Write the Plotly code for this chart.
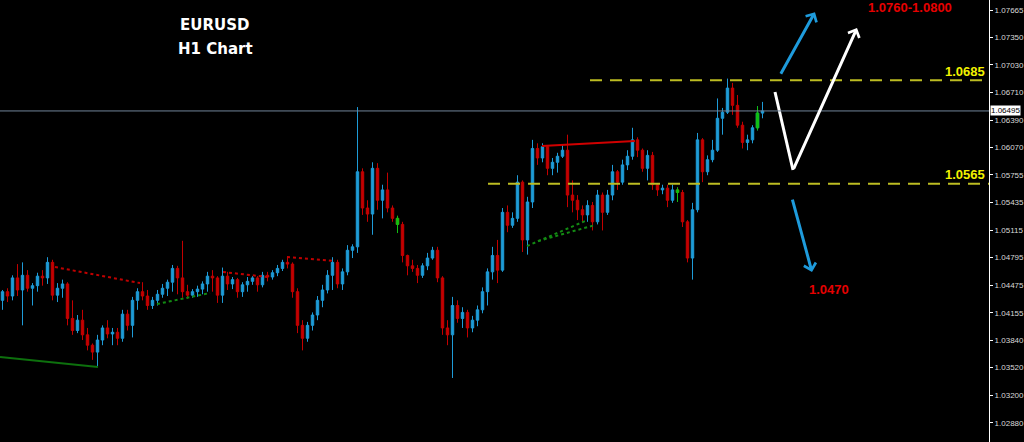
import plotly.graph_objects as go

# EURUSD H1 bars (one bar per slot, left to right)
opens = [
    1.0430, 1.0440, 1.0435, 1.0456, 1.0442, 1.0459, 1.0444, 1.0447, 1.0458, 1.0456,
    1.0474, 1.0436, 1.0444, 1.0449, 1.0409, 1.0395, 1.0407, 1.0390, 1.0378, 1.0370,
    1.0384, 1.0398, 1.0391, 1.0393, 1.0386, 1.0414, 1.0401, 1.0430, 1.0440, 1.0435,
    1.0424, 1.0430, 1.0437, 1.0444, 1.0451, 1.0467, 1.0456, 1.0440, 1.0436, 1.0440,
    1.0443, 1.0449, 1.0458, 1.0456, 1.0436, 1.0458, 1.0449, 1.0454, 1.0440, 1.0448,
    1.0452, 1.0456, 1.0448, 1.0459, 1.0457, 1.0462, 1.0467, 1.0474, 1.0472, 1.0440,
    1.0401, 1.0386, 1.0401, 1.0413, 1.0430, 1.0442, 1.0459, 1.0474, 1.0449, 1.0463,
    1.0488, 1.0492, 1.0579, 1.0537, 1.0530, 1.0583, 1.0546, 1.0558, 1.0537, 1.0525,
    1.0518, 1.0482, 1.0470, 1.0467, 1.0459, 1.0470, 1.0479, 1.0488, 1.0456, 1.0398,
    1.0390, 1.0424, 1.0409, 1.0416, 1.0398, 1.0407, 1.0419, 1.0440, 1.0463, 1.0482,
    1.0465, 1.0532, 1.0517, 1.0525, 1.0567, 1.0500, 1.0544, 1.0606, 1.0595, 1.0608,
    1.0583, 1.0590, 1.0597, 1.0604, 1.0552, 1.0546, 1.0535, 1.0529, 1.0540, 1.0521,
    1.0552, 1.0532, 1.0552, 1.0579, 1.0567, 1.0587, 1.0597, 1.0616, 1.0604, 1.0583,
    1.0598, 1.0564, 1.0558, 1.0560, 1.0546, 1.0558, 1.0555, 1.0521, 1.0479, 1.0535,
    1.0616, 1.0579, 1.0593, 1.0604, 1.0641, 1.0648, 1.0676, 1.0656, 1.0633, 1.0613,
    1.0616, 1.0630, 1.0647,
]
highs = [
    1.0442, 1.0444, 1.0459, 1.0472, 1.0474, 1.0465, 1.0450, 1.0462, 1.0465, 1.0480,
    1.0477, 1.0450, 1.0454, 1.0451, 1.0430, 1.0413, 1.0419, 1.0398, 1.0380, 1.0390,
    1.0401, 1.0407, 1.0398, 1.0398, 1.0419, 1.0419, 1.0434, 1.0444, 1.0451, 1.0442,
    1.0434, 1.0442, 1.0449, 1.0454, 1.0471, 1.0470, 1.0499, 1.0448, 1.0443, 1.0447,
    1.0452, 1.0463, 1.0465, 1.0458, 1.0468, 1.0463, 1.0457, 1.0456, 1.0451, 1.0457,
    1.0458, 1.0458, 1.0463, 1.0463, 1.0465, 1.0471, 1.0477, 1.0481, 1.0474, 1.0444,
    1.0407, 1.0405, 1.0416, 1.0435, 1.0448, 1.0465, 1.0480, 1.0477, 1.0467, 1.0494,
    1.0495, 1.0654, 1.0583, 1.0546, 1.0590, 1.0589, 1.0564, 1.0578, 1.0540, 1.0528,
    1.0521, 1.0483, 1.0477, 1.0471, 1.0473, 1.0485, 1.0492, 1.0492, 1.0458, 1.0407,
    1.0434, 1.0430, 1.0422, 1.0419, 1.0412, 1.0424, 1.0445, 1.0467, 1.0492, 1.0500,
    1.0537, 1.0540, 1.0532, 1.0575, 1.0569, 1.0550, 1.0616, 1.0612, 1.0612, 1.0610,
    1.0595, 1.0601, 1.0610, 1.0622, 1.0569, 1.0552, 1.0540, 1.0546, 1.0544, 1.0558,
    1.0555, 1.0558, 1.0587, 1.0581, 1.0593, 1.0604, 1.0630, 1.0619, 1.0606, 1.0604,
    1.0602, 1.0566, 1.0564, 1.0564, 1.0564, 1.0561, 1.0558, 1.0523, 1.0543, 1.0624,
    1.0618, 1.0598, 1.0616, 1.0664, 1.0653, 1.0687, 1.0682, 1.0668, 1.0637, 1.0622,
    1.0633, 1.0655, 1.0660,
]
lows = [
    1.0419, 1.0428, 1.0430, 1.0435, 1.0401, 1.0440, 1.0424, 1.0440, 1.0447, 1.0449,
    1.0430, 1.0428, 1.0433, 1.0401, 1.0390, 1.0392, 1.0384, 1.0372, 1.0361, 1.0353,
    1.0378, 1.0386, 1.0378, 1.0378, 1.0382, 1.0395, 1.0387, 1.0419, 1.0430, 1.0419,
    1.0420, 1.0424, 1.0433, 1.0435, 1.0440, 1.0437, 1.0433, 1.0432, 1.0433, 1.0434,
    1.0437, 1.0440, 1.0440, 1.0427, 1.0427, 1.0442, 1.0443, 1.0433, 1.0434, 1.0440,
    1.0448, 1.0440, 1.0445, 1.0452, 1.0454, 1.0458, 1.0464, 1.0467, 1.0433, 1.0392,
    1.0372, 1.0382, 1.0395, 1.0407, 1.0422, 1.0438, 1.0442, 1.0444, 1.0442, 1.0459,
    1.0479, 1.0485, 1.0529, 1.0521, 1.0506, 1.0535, 1.0525, 1.0532, 1.0521, 1.0508,
    1.0474, 1.0459, 1.0463, 1.0450, 1.0456, 1.0465, 1.0477, 1.0451, 1.0390, 1.0378,
    1.0340, 1.0404, 1.0398, 1.0387, 1.0393, 1.0400, 1.0415, 1.0424, 1.0454, 1.0450,
    1.0463, 1.0509, 1.0514, 1.0521, 1.0486, 1.0483, 1.0537, 1.0587, 1.0590, 1.0575,
    1.0575, 1.0578, 1.0595, 1.0538, 1.0532, 1.0523, 1.0521, 1.0521, 1.0511, 1.0518,
    1.0511, 1.0529, 1.0546, 1.0558, 1.0564, 1.0581, 1.0593, 1.0596, 1.0579, 1.0569,
    1.0558, 1.0551, 1.0553, 1.0538, 1.0543, 1.0544, 1.0515, 1.0474, 1.0454, 1.0532,
    1.0567, 1.0575, 1.0590, 1.0602, 1.0622, 1.0646, 1.0645, 1.0630, 1.0606, 1.0604,
    1.0612, 1.0627, 1.0641,
]
closes = [
    1.0440, 1.0435, 1.0456, 1.0442, 1.0459, 1.0444, 1.0447, 1.0458, 1.0456, 1.0474,
    1.0436, 1.0444, 1.0449, 1.0409, 1.0395, 1.0407, 1.0390, 1.0378, 1.0370, 1.0384,
    1.0398, 1.0391, 1.0393, 1.0386, 1.0414, 1.0401, 1.0430, 1.0440, 1.0435, 1.0424,
    1.0430, 1.0437, 1.0444, 1.0451, 1.0467, 1.0456, 1.0440, 1.0436, 1.0440, 1.0443,
    1.0449, 1.0458, 1.0456, 1.0436, 1.0458, 1.0449, 1.0454, 1.0440, 1.0448, 1.0452,
    1.0456, 1.0448, 1.0459, 1.0457, 1.0462, 1.0467, 1.0474, 1.0472, 1.0440, 1.0401,
    1.0386, 1.0401, 1.0413, 1.0430, 1.0442, 1.0459, 1.0474, 1.0449, 1.0463, 1.0488,
    1.0492, 1.0579, 1.0537, 1.0530, 1.0583, 1.0546, 1.0558, 1.0537, 1.0525, 1.0518,
    1.0482, 1.0470, 1.0467, 1.0459, 1.0470, 1.0479, 1.0488, 1.0456, 1.0398, 1.0390,
    1.0424, 1.0409, 1.0416, 1.0398, 1.0407, 1.0419, 1.0440, 1.0463, 1.0482, 1.0465,
    1.0532, 1.0517, 1.0525, 1.0567, 1.0500, 1.0544, 1.0606, 1.0595, 1.0608, 1.0583,
    1.0590, 1.0597, 1.0604, 1.0552, 1.0546, 1.0535, 1.0529, 1.0540, 1.0521, 1.0552,
    1.0532, 1.0552, 1.0579, 1.0567, 1.0587, 1.0597, 1.0616, 1.0604, 1.0583, 1.0598,
    1.0564, 1.0558, 1.0560, 1.0546, 1.0558, 1.0555, 1.0521, 1.0479, 1.0535, 1.0616,
    1.0579, 1.0593, 1.0604, 1.0641, 1.0648, 1.0676, 1.0656, 1.0633, 1.0613, 1.0616,
    1.0630, 1.0647, 1.06495,
]
bars = list(range(len(closes)))
green_bars = [79, 135, 151]  # bars the indicator painted green

price_ticks = [1.07665, 1.07350, 1.07030, 1.06710, 1.06390, 1.06070, 1.05755, 1.05435,
               1.05115, 1.04795, 1.04475, 1.04155, 1.03840, 1.03520, 1.03200, 1.02880]
last_price = 1.06495

# support / resistance levels and where their dashed lines start
levels = [1.0685, 1.0565]
level_starts = [117.5, 97.1]
level_labels = ["1.0685", "1.0565"]

# trend lines drawn on the chart: (bar0, bar1), (price0, price1)
red_dotted_x = [[10.5, 27.5], [44.1, 53.1], [56.9, 66.5]]
red_dotted_y = [[1.04686, 1.04500], [1.04628, 1.04570], [1.04802, 1.04756]]
red_solid_x = [107.9, 126.5]
red_solid_y = [1.06089, 1.06147]
green_solid_x = [-0.5, 19.1]
green_solid_y = [1.03643, 1.03527]
green_dotted_x = [[30.9, 41.5], [104.9, 116.5], [107.1, 118.5]]
green_dotted_y = [[1.04257, 1.04385], [1.04929, 1.05219], [1.04987, 1.05173]]

# scenario arrows
white_leg_x = [154.5, 158.1]
white_leg_y = [1.06715, 1.05811]
targets_up = "1.0760-1.0800"
target_down = "1.0470"

X_RANGE = [-0.5, 197.3]
Y_RANGE = [1.02658, 1.07781]

fig = go.Figure()

fig.add_trace(go.Candlestick(
    x=bars, open=opens, high=highs, low=lows, close=closes,
    increasing=dict(line=dict(color="#1e9bd7", width=1), fillcolor="#1e9bd7"),
    decreasing=dict(line=dict(color="#c40000", width=1), fillcolor="#c40000"),
    whiskerwidth=0, showlegend=False, hoverinfo="skip",
))
fig.add_trace(go.Candlestick(
    x=green_bars,
    open=[opens[i] for i in green_bars], high=[highs[i] for i in green_bars],
    low=[lows[i] for i in green_bars], close=[closes[i] for i in green_bars],
    increasing=dict(line=dict(color="#10c010", width=1), fillcolor="#10c010"),
    decreasing=dict(line=dict(color="#10c010", width=1), fillcolor="#10c010"),
    whiskerwidth=0, showlegend=False, hoverinfo="skip",
))

for xs, ys in zip(red_dotted_x, red_dotted_y):
    fig.add_trace(go.Scatter(x=xs, y=ys, mode="lines", showlegend=False, hoverinfo="skip",
                             line=dict(color="#c00000", width=2, dash="dot")))
for xs, ys in zip(green_dotted_x, green_dotted_y):
    fig.add_trace(go.Scatter(x=xs, y=ys, mode="lines", showlegend=False, hoverinfo="skip",
                             line=dict(color="#138a13", width=2, dash="dot")))
fig.add_trace(go.Scatter(x=red_solid_x, y=red_solid_y, mode="lines", showlegend=False,
                         hoverinfo="skip", line=dict(color="#d00000", width=2)))
fig.add_trace(go.Scatter(x=green_solid_x, y=green_solid_y, mode="lines", showlegend=False,
                         hoverinfo="skip", line=dict(color="#0d700d", width=2)))

# levels
for lvl, x0 in zip(levels, level_starts):
    fig.add_trace(go.Scatter(x=[x0, X_RANGE[1]], y=[lvl, lvl], mode="lines", showlegend=False,
                             hoverinfo="skip", line=dict(color="#bcbc22", width=2, dash="12px,8px")))
for lvl, lab in zip(levels, level_labels):
    fig.add_annotation(x=1, xref="paper", xanchor="right", y=lvl, yshift=9, xshift=-2,
                       text=f"<b>{lab}</b>", showarrow=False,
                       font=dict(family="Liberation Sans", size=13, color="#f2f200"))

# current price line + tag on the axis
fig.add_shape(type="line", xref="paper", x0=0, x1=1, y0=last_price, y1=last_price,
              line=dict(color="#71849a", width=1))
fig.add_annotation(x=1, xref="paper", xanchor="left", y=last_price, text=f"{last_price:.5f}",
                   showarrow=False, bgcolor="white", borderpad=0, xshift=1,
                   font=dict(family="Liberation Sans", size=8, color="black"))

# white scenario: dip then rally
fig.add_trace(go.Scatter(x=white_leg_x, y=white_leg_y, mode="lines", showlegend=False,
                         hoverinfo="skip", line=dict(color="white", width=3)))
fig.add_annotation(x=170.9, y=1.07456, ax=-64, ay=142, text="", showarrow=True,
                   arrowhead=4, arrowsize=0.8, arrowwidth=3, arrowcolor="white")
# blue scenarios
fig.add_annotation(x=162.5, y=1.0764, ax=-35, ay=63, text="", showarrow=True,
                   arrowhead=4, arrowsize=0.8, arrowwidth=3, arrowcolor="#1e9bdc")
fig.add_annotation(x=161.9, y=1.04628, ax=-20, ay=-74, text="", showarrow=True,
                   arrowhead=4, arrowsize=0.8, arrowwidth=3, arrowcolor="#1e9bdc")

fig.add_annotation(x=181.5, y=1.0769, text=f"<b>{targets_up}</b>", showarrow=False,
                   font=dict(family="Liberation Sans", size=13, color="#e60000"))
fig.add_annotation(x=165.3, y=1.0442, text=f"<b>{target_down}</b>", showarrow=False,
                   font=dict(family="Liberation Sans", size=13, color="#e60000"))

fig.add_annotation(x=0.2164, y=0.944, xref="paper", yref="paper", xanchor="center", yanchor="middle",
                   text="<b>EURUSD</b>", showarrow=False,
                   font=dict(family="DejaVu Sans", size=15, color="white"))
fig.add_annotation(x=0.2174, y=0.889, xref="paper", yref="paper", xanchor="center", yanchor="middle",
                   text="<b>H1 Chart</b>", showarrow=False,
                   font=dict(family="DejaVu Sans", size=15, color="white"))

fig.update_layout(
    width=1024, height=442,
    margin=dict(l=0, r=35, t=0, b=0, autoexpand=False),
    paper_bgcolor="black", plot_bgcolor="black",
    showlegend=False,
    xaxis=dict(range=X_RANGE, visible=False, rangeslider=dict(visible=False), fixedrange=True),
    yaxis=dict(
        range=Y_RANGE, side="right", showgrid=False, zeroline=False,
        showline=True, linecolor="white", linewidth=1,
        ticks="outside", ticklen=3, tickcolor="white",
        tickvals=price_ticks, ticktext=[f"{v:.5f}" for v in price_ticks],
        tickfont=dict(family="Liberation Sans", size=8, color="#d8d8d8"),
    ),
)

# the page body has a default 8px margin; drop it so the chart sits at the window corner
fig.write_html("out.html", config={"displayModeBar": False},
               post_script="document.body.style.margin='0';")
